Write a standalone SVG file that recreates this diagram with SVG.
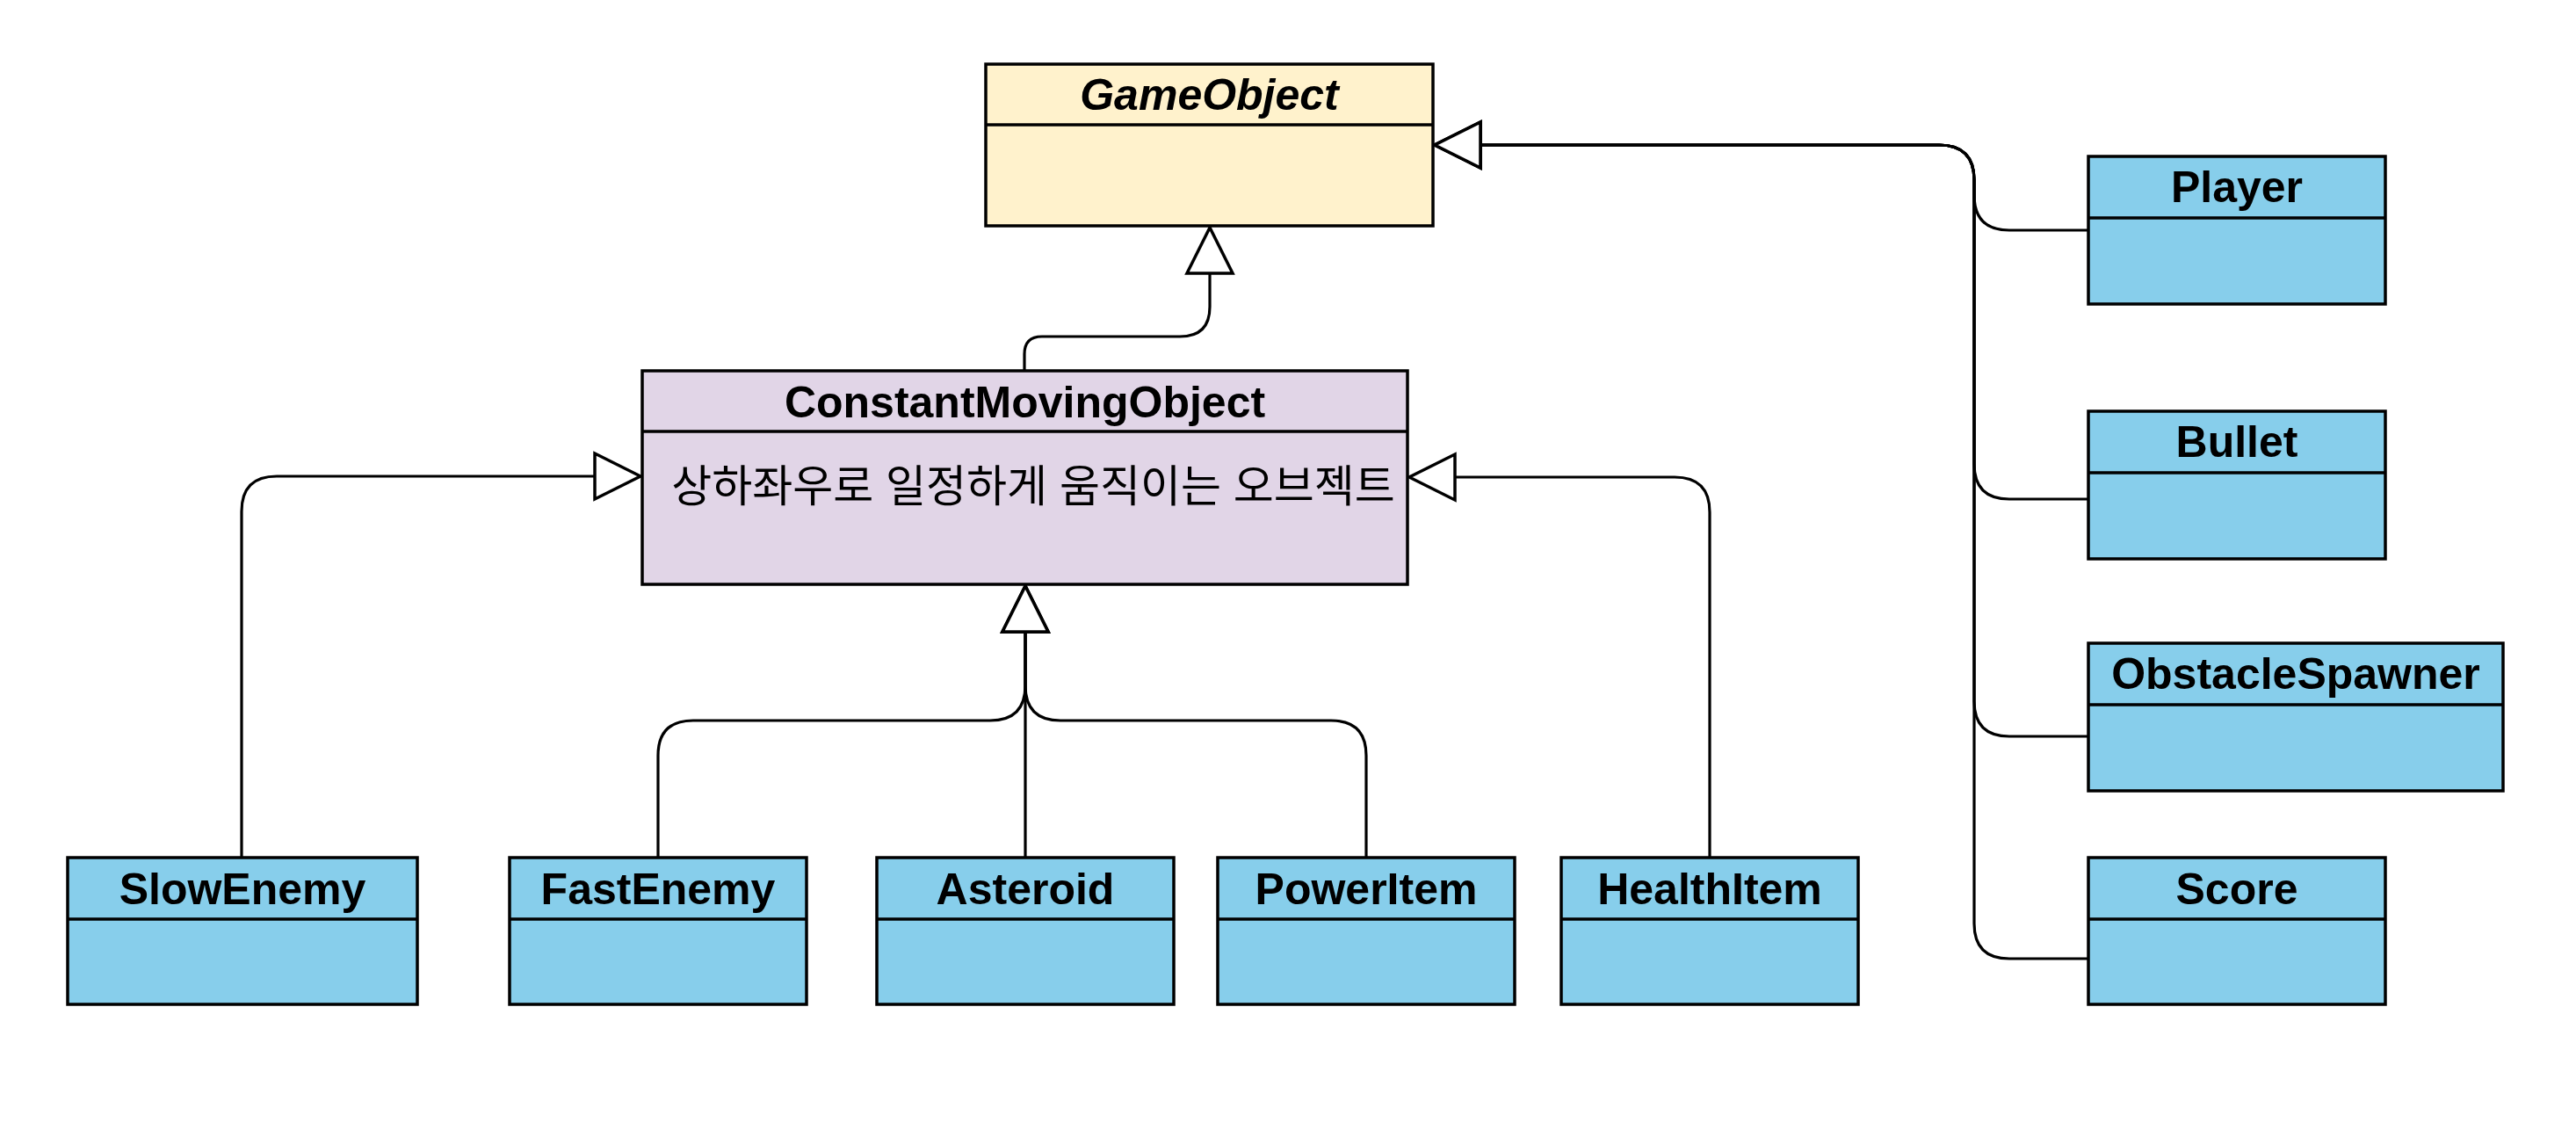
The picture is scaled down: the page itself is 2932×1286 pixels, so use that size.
<svg xmlns="http://www.w3.org/2000/svg" width="2932" height="1286" viewBox="0 0 2932 1286">
<style>
.box{stroke:#000;stroke-width:3.5}
.blue{fill:#87CEEB}
.yellow{fill:#FFF2CC}
.purple{fill:#E1D5E7}
.div{stroke:#000;stroke-width:3.5}
.title{font-family:"Liberation Sans",Arial,sans-serif;font-weight:bold;font-size:50px;text-anchor:middle;fill:#000}
.body{font-family:"Liberation Sans","Noto Sans CJK KR",sans-serif;font-size:50px;text-anchor:middle;fill:#000}
.edge{fill:none;stroke:#000;stroke-width:3.2;marker-end:url(#tri)}
</style>
<defs>
<marker id="tri" markerUnits="userSpaceOnUse" markerWidth="64" markerHeight="64" viewBox="-60 -32 64 64" refX="0" refY="0" orient="auto" overflow="visible">
<path d="M0,0 L-52,-26 L-52,26 Z" fill="#fff" stroke="#000" stroke-width="3.5"/>
</marker>
</defs>
<rect width="2932" height="1286" fill="#fff"/>
<g id="connectors">
<path class="edge" d="M275,976 V582 Q275,542 315,542 H729"/>
<path class="edge" d="M1946,976 V583 Q1946,543 1906,543 H1604"/>
<path class="edge" d="M749,976 V860 Q749,820 789,820 H1127 Q1167,820 1167,780 V667"/>
<path class="edge" d="M1167,976 V667"/>
<path class="edge" d="M1555,976 V860 Q1555,820 1515,820 H1207 Q1167,820 1167,780 V667"/>
<path class="edge" d="M1166,422 V403 Q1166,383 1186,383 H1343 Q1377,383 1377,349 V259"/>
<path class="edge" d="M2377,262 H2287 Q2247,262 2247,222 V205 Q2247,165 2207,165 H1633"/>
<path class="edge" d="M2377,568 H2287 Q2247,568 2247,528 V205 Q2247,165 2207,165 H1633"/>
<path class="edge" d="M2377,838 H2287 Q2247,838 2247,798 V205 Q2247,165 2207,165 H1633"/>
<path class="edge" d="M2377,1091 H2287 Q2247,1091 2247,1051 V205 Q2247,165 2207,165 H1633"/>
</g>
<g id="GameObject">
<rect class="box yellow" x="1122" y="73" width="509" height="184"/>
<line class="div" x1="1122" y1="142" x2="1631" y2="142"/>
<text class="title" x="1376.5" y="125" font-style="italic">GameObject</text>
</g>
<g id="ConstantMovingObject">
<rect class="box purple" x="731" y="422" width="871" height="243"/>
<line class="div" x1="731" y1="491" x2="1602" y2="491"/>
<text class="title" x="1166.5" y="475">ConstantMovingObject</text>
<text class="body" x="1176" y="571">상하좌우로 일정하게 움직이는 오브젝트</text>
</g>
<g id="SlowEnemy">
<rect class="box blue" x="77" y="976" width="398" height="167"/>
<line class="div" x1="77" y1="1046" x2="475" y2="1046"/>
<text class="title" x="276" y="1029">SlowEnemy</text>
</g>
<g id="FastEnemy">
<rect class="box blue" x="580" y="976" width="338" height="167"/>
<line class="div" x1="580" y1="1046" x2="918" y2="1046"/>
<text class="title" x="749" y="1029">FastEnemy</text>
</g>
<g id="Asteroid">
<rect class="box blue" x="998" y="976" width="338" height="167"/>
<line class="div" x1="998" y1="1046" x2="1336" y2="1046"/>
<text class="title" x="1167" y="1029">Asteroid</text>
</g>
<g id="PowerItem">
<rect class="box blue" x="1386" y="976" width="338" height="167"/>
<line class="div" x1="1386" y1="1046" x2="1724" y2="1046"/>
<text class="title" x="1555" y="1029">PowerItem</text>
</g>
<g id="HealthItem">
<rect class="box blue" x="1777" y="976" width="338" height="167"/>
<line class="div" x1="1777" y1="1046" x2="2115" y2="1046"/>
<text class="title" x="1946" y="1029">HealthItem</text>
</g>
<g id="Player">
<rect class="box blue" x="2377" y="178" width="338" height="168"/>
<line class="div" x1="2377" y1="248" x2="2715" y2="248"/>
<text class="title" x="2546" y="230">Player</text>
</g>
<g id="Bullet">
<rect class="box blue" x="2377" y="468" width="338" height="168"/>
<line class="div" x1="2377" y1="538" x2="2715" y2="538"/>
<text class="title" x="2546" y="520">Bullet</text>
</g>
<g id="ObstacleSpawner">
<rect class="box blue" x="2377" y="732" width="472" height="168"/>
<line class="div" x1="2377" y1="802" x2="2849" y2="802"/>
<text class="title" x="2613" y="784">ObstacleSpawner</text>
</g>
<g id="Score">
<rect class="box blue" x="2377" y="976" width="338" height="167"/>
<line class="div" x1="2377" y1="1046" x2="2715" y2="1046"/>
<text class="title" x="2546" y="1029">Score</text>
</g>
</svg>
